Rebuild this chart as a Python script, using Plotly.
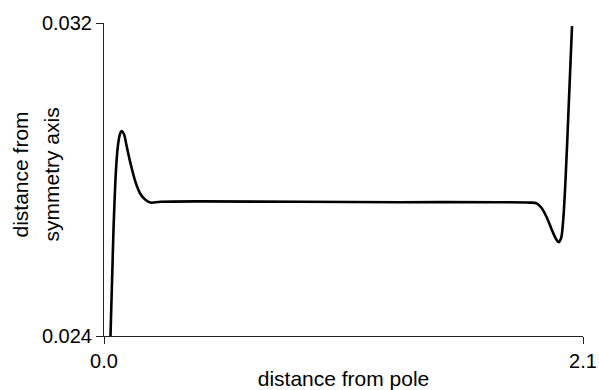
import plotly.graph_objects as go

# distance from pole (arc length along the profile)
pole_distance = [
    0.0284, 0.0416, 0.0525, 0.0613, 0.0700, 0.0766, 0.0875, 0.0984,
    0.1159, 0.1378, 0.1597, 0.1816, 0.2034, 0.2472, 0.4222,
    0.8597, 1.2972, 1.7347, 1.8659, 1.8966, 1.9184, 1.9403, 1.9622, 1.9797,
    1.9928, 2.0038, 2.0125, 2.0234, 2.0366, 2.0519,
]
# distance from symmetry axis (radius)
axis_distance = [
    0.02400, 0.02671, 0.02824, 0.02888, 0.02916, 0.02924, 0.02916, 0.02888,
    0.02842, 0.02794, 0.02763, 0.02748, 0.02741, 0.02743, 0.02744,
    0.02743, 0.02742, 0.02742, 0.02741, 0.02739, 0.02727, 0.02704, 0.02673, 0.02650,
    0.02640, 0.02650, 0.02691, 0.02799, 0.02978, 0.03192,
]

x_ticks = [0.0, 2.1]
x_tick_text = ["0.0", "2.1"]
y_ticks = [0.024, 0.032]
y_tick_text = ["0.024", "0.032"]
y_title_lines = ["distance from", "symmetry axis"]

font_family = "Liberation Sans, Arial, Helvetica, sans-serif"

fig = go.Figure(
    go.Scatter(
        x=pole_distance,
        y=axis_distance,
        mode="lines",
        line=dict(color="black", width=2.6, shape="spline", smoothing=0.9),
        hoverinfo="skip",
    )
)

axis_common = dict(
    showgrid=False,
    zeroline=False,
    showline=True,
    linecolor="#222",
    linewidth=1,
    ticks="outside",
    ticklen=7,
    tickwidth=1,
    tickcolor="#222",
    tickfont=dict(family=font_family, size=20, color="black"),
    automargin=False,
)

fig.update_xaxes(
    range=[0, 2.1],
    tickmode="array",
    tickvals=x_ticks,
    ticktext=x_tick_text,
    title=dict(text="distance from pole",
               font=dict(family=font_family, size=21, color="black"),
               standoff=4),
    **axis_common,
)
fig.update_yaxes(
    range=[0.024, 0.032],
    tickmode="array",
    tickvals=y_ticks,
    ticktext=y_tick_text,
    **axis_common,
)

# two-line vertical title for the radius axis
for line_text, shift in zip(y_title_lines, [-84, -53]):
    fig.add_annotation(
        text=line_text,
        xref="paper", yref="paper",
        x=0, y=0.5,
        xanchor="center", yanchor="middle",
        xshift=shift, yshift=5,
        textangle=-90,
        showarrow=False,
        font=dict(family=font_family, size=21, color="black"),
    )

fig.update_layout(
    width=599,
    height=390,
    margin=dict(l=104, r=16, t=23, b=54),
    paper_bgcolor="white",
    plot_bgcolor="white",
    showlegend=False,
)

fig.write_html("out.html")
